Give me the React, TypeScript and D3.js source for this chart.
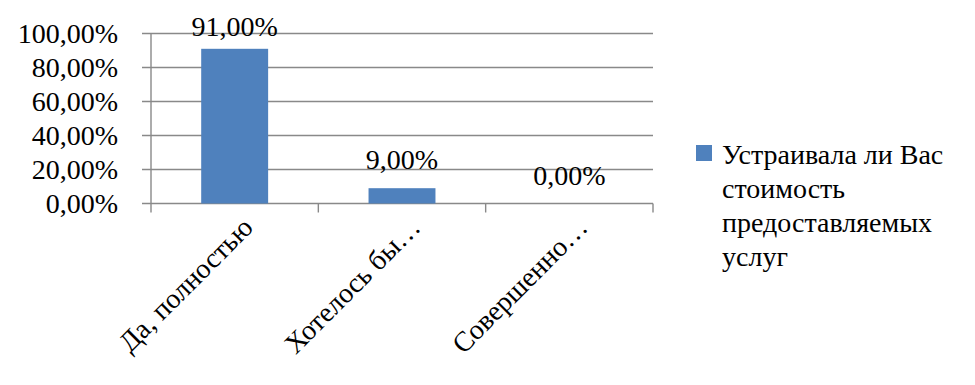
import { FC, useEffect, useRef } from "react";
import * as d3 from "d3";

const categories = ["Да, полностью", "Хотелось бы…", "Совершенно…"];
const values = [91, 9, 0];
const yTicks = [0, 20, 40, 60, 80, 100];
const seriesName = ["Устраивала ли Вас", "стоимость", "предоставляемых", "услуг"];

const App: FC = () => {
  const ref = useRef<SVGSVGElement>(null);

  function renderChart() {
    const svg = d3.select(ref.current);
    svg.selectAll("*").remove();

    const font = "Liberation Serif, Tinos, Times New Roman, DejaVu Serif, serif";
    const gray = "#898989";

    const x = d3.scaleBand().domain(categories).range([151, 653]).paddingInner(0.6).paddingOuter(0.3);
    const band = d3.scaleBand().domain(categories).range([151, 653]);
    const y = d3.scaleLinear().domain([0, 100]).range([203.5, 33.5]);

    const g = svg.append("g").style("font-family", font).style("font-size", "28px");

    // gridlines + y tick marks
    yTicks.forEach((t) => {
      g.append("line")
        .attr("x1", 142)
        .attr("x2", 653)
        .attr("y1", y(t))
        .attr("y2", y(t))
        .attr("stroke", gray)
        .attr("stroke-width", 1.4);
      g.append("text")
        .attr("x", 118)
        .attr("y", y(t))
        .attr("dy", "0.35em")
        .attr("text-anchor", "end")
        .text(t.toFixed(2).replace(".", ",") + "%");
    });

    // y axis
    g.append("line")
      .attr("x1", 151)
      .attr("x2", 151)
      .attr("y1", y(100))
      .attr("y2", y(0) + 9)
      .attr("stroke", gray)
      .attr("stroke-width", 1.4);

    // x tick marks
    categories.forEach((c) => {
      const xe = band(c)! + band.bandwidth();
      g.append("line")
        .attr("x1", xe)
        .attr("x2", xe)
        .attr("y1", y(0))
        .attr("y2", y(0) + 9)
        .attr("stroke", gray)
        .attr("stroke-width", 1.4);
    });

    // bars
    categories.forEach((c, i) => {
      g.append("rect")
        .attr("x", x(c)!)
        .attr("y", y(values[i]))
        .attr("width", x.bandwidth())
        .attr("height", y(0) - y(values[i]))
        .attr("fill", "#4f81bd");

      // value labels (kept inside chart area at the top)
      const cx = band(c)! + band.bandwidth() / 2;
      g.append("text")
        .attr("x", cx)
        .attr("y", Math.max(y(values[i]) - 19, 36))
        .attr("text-anchor", "middle")
        .text(values[i].toFixed(2).replace(".", ",") + "%");

      // category labels
      g.append("text")
        .attr("transform", `translate(${cx + 20},229) rotate(-45)`)
        .attr("text-anchor", "end")
        .text(c);
    });

    // legend
    g.append("rect")
      .attr("x", 696)
      .attr("y", 145)
      .attr("width", 16)
      .attr("height", 16)
      .attr("fill", "#4f81bd");
    seriesName.forEach((line, i) => {
      g.append("text")
        .attr("x", 722)
        .attr("y", 163.5 + i * 34)
        .text(line);
    });
  }

  useEffect(() => {
    document.body.style.margin = "0";
    renderChart();
  }, []);

  return <svg ref={ref} width={975} height={385} style={{ display: "block", background: "#fff" }}></svg>;
};

export default App;
